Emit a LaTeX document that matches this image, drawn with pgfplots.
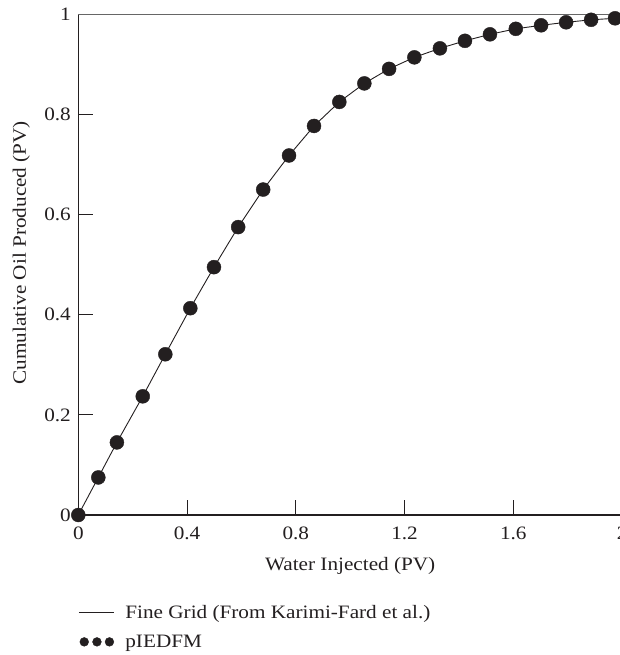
\documentclass[border=0pt]{standalone}
\usepackage{pgfplots}
\pgfplotsset{compat=1.18}
\usepackage{fontspec}
\setmainfont{Liberation Serif}[FakeStretch=1.12]
\definecolor{ink}{HTML}{231F20}
\newcommand{\chartfont}{\fontsize{19}{22}\selectfont}
\begin{document}
\begin{tikzpicture}
\begin{axis}[
  at={(78.3bp,140bp)}, anchor=south west,
  scale only axis, width=543.8bp, height=500.7bp,
  xmin=0, xmax=2, ymin=0, ymax=1,
  axis x line*=bottom, axis y line*=left,
  axis line style={ink, line width=1.3pt, -},
  xtick={0,0.4,0.8,1.2,1.6,2},
  ytick={0,0.2,0.4,0.6,0.8,1},
  tick align=inside, major tick length=15bp,
  tick style={ink, line width=1pt},
  /pgf/number format/assume math mode=true,
  tick label style={font=\chartfont, text=ink},
  xticklabel style={yshift=-8bp},
  yticklabel style={xshift=-4bp},
  every axis x label/.style={at={(axis description cs:0.5,0)}, anchor=center, yshift=-51bp, font=\chartfont, text=ink},
  every axis y label/.style={at={(axis description cs:0,0.5)}, anchor=center, rotate=90, xshift=12bp, yshift=57bp, font=\chartfont, text=ink},
  xlabel={Water Injected (PV)},
  ylabel={Cumulative Oil Produced (PV)},
  clip=false,
  legend style={at={(0,-0.176)}, anchor=north west, draw=none, fill=none,
    font=\chartfont, text=ink, row sep=11bp, column sep=9bp, inner sep=0pt},
  legend cell align=left,
]
\draw[black!60, line width=1pt] (axis cs:0,1) -- (axis cs:2,1);
\addplot[ink, line width=0.9pt, mark=none,
  legend image code/.code={\draw[ink, line width=0.9pt] (-1bp,0bp) -- (34bp,0bp);}]
  coordinates {
  (0,0) (0.0736,0.075) (0.142,0.145) (0.237,0.237) (0.320,0.321) (0.412,0.413)
  (0.499,0.495) (0.588,0.575) (0.680,0.650) (0.775,0.718) (0.867,0.777)
  (0.960,0.825) (1.052,0.862) (1.143,0.891) (1.236,0.914) (1.330,0.932)
  (1.422,0.947) (1.514,0.960) (1.609,0.971) (1.702,0.978) (1.794,0.984)
  (1.886,0.989) (1.974,0.992) (2.0,0.993)
  };
\addlegendentry{Fine Grid (From Karimi-Fard et al.)}
\addplot[only marks, mark=*, mark size=7bp, mark options={fill=ink, draw=ink},
  legend image code/.code={
    \fill[ink] (4.3bp,0bp) circle (4.4bp);
    \fill[ink] (17bp,0bp) circle (4.4bp);
    \fill[ink] (29.5bp,0bp) circle (4.4bp);}]
  coordinates {
  (0,0) (0.0736,0.075) (0.142,0.145) (0.237,0.237) (0.320,0.321) (0.412,0.413)
  (0.499,0.495) (0.588,0.575) (0.680,0.650) (0.775,0.718) (0.867,0.777)
  (0.960,0.825) (1.052,0.862) (1.143,0.891) (1.236,0.914) (1.330,0.932)
  (1.422,0.947) (1.514,0.960) (1.609,0.971) (1.702,0.978) (1.794,0.984)
  (1.886,0.989) (1.974,0.992)
  };
\addlegendentry{pIEDFM}
\end{axis}
\pgfresetboundingbox
\useasboundingbox (0,0) rectangle (620bp,655bp);
\end{tikzpicture}
\end{document}
